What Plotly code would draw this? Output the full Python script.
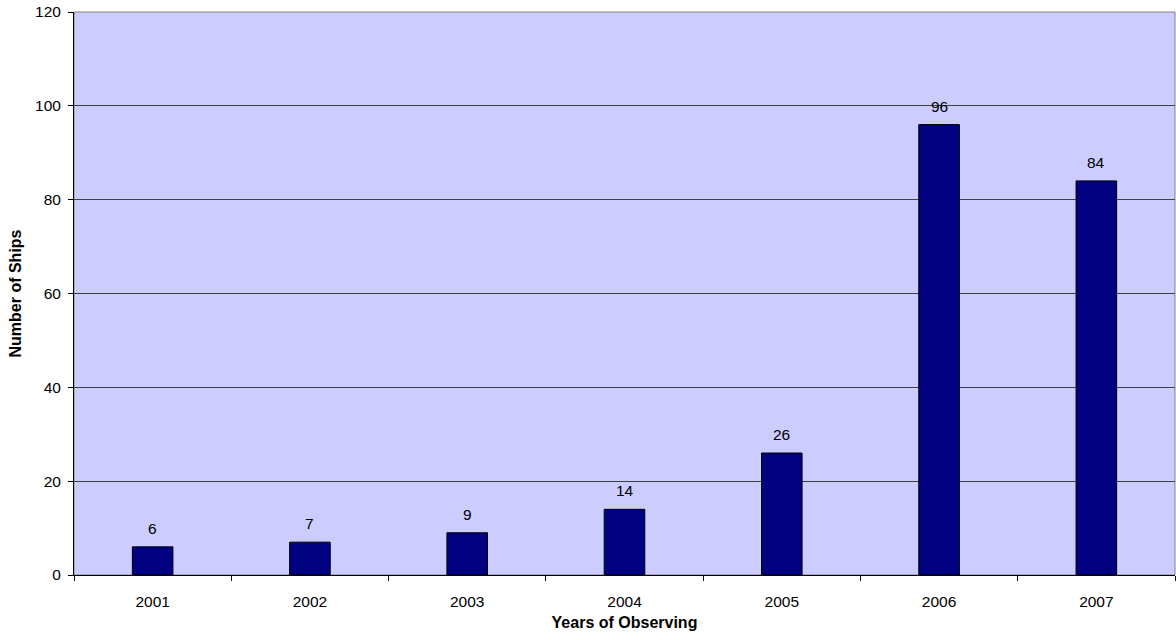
import plotly.graph_objects as go

# Ships observed per year
years = ["2001", "2002", "2003", "2004", "2005", "2006", "2007"]
ships = [6, 7, 9, 14, 26, 96, 84]

font_family = "Liberation Sans, Arial, sans-serif"
tick_size = 15.5
title_size = 16

fig = go.Figure(
    go.Bar(
        x=years,
        y=ships,
        marker=dict(color="#000080", line=dict(color="#000000", width=1)),
        hoverinfo="x+y",
    )
)

# value labels sitting above each bar (x given as category index)
for i, v in enumerate(ships):
    fig.add_annotation(
        x=i, y=v, text=str(v), showarrow=False,
        yanchor="bottom", yshift=8,
        font=dict(family=font_family, size=tick_size, color="#000000"),
    )

fig.update_layout(
    width=1176,
    height=640,
    margin=dict(l=74, r=1, t=12, b=65, autoexpand=False),
    paper_bgcolor="#FFFFFF",
    plot_bgcolor="#CCCCFF",
    bargap=0.742,
    showlegend=False,
    font=dict(family=font_family, size=tick_size, color="#000000"),
    shapes=[
        dict(type="rect", xref="paper", yref="paper", x0=0, x1=1, y0=0, y1=1,
             line=dict(color="#808080", width=1), layer="below"),
    ],
)

fig.update_xaxes(
    type="category",
    range=[-0.5, len(years) - 0.5],
    showline=True,
    linecolor="#000000",
    linewidth=1,
    ticks="outside",
    tickson="boundaries",
    ticklen=5,
    tickcolor="#000000",
    ticklabelstandoff=12,
    tickangle=0,
    showgrid=False,
    automargin=False,
    tickfont=dict(family=font_family, size=tick_size),
    title=dict(text="<b>Years of Observing</b>", font=dict(family=font_family, size=title_size), standoff=8),
)

fig.update_yaxes(
    range=[0, 120],
    dtick=20,
    showline=True,
    linecolor="#000000",
    linewidth=1,
    ticks="outside",
    ticklen=5,
    tickcolor="#000000",
    ticklabelstandoff=4,
    showgrid=True,
    gridcolor="#404040",
    gridwidth=1,
    zeroline=False,
    automargin=False,
    tickfont=dict(family=font_family, size=tick_size),
    title=dict(text="<b>Number of Ships</b>", font=dict(family=font_family, size=title_size), standoff=9),
)

fig.write_html("out.html")
